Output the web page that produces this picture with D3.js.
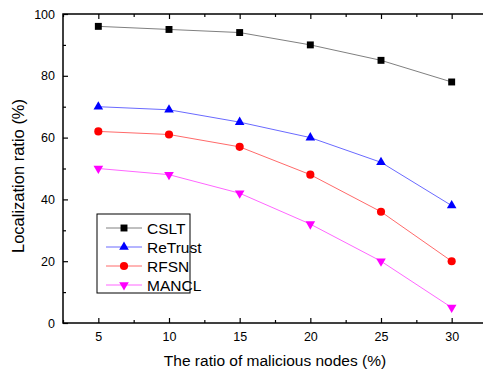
<!DOCTYPE html>
<html>
<head>
<meta charset="utf-8">
<script src="https://cdn.jsdelivr.net/npm/d3@7"></script>
<style>
  body { margin: 0; background: #fff; }
  svg { display: block; font-family: Arial, "Liberation Sans", sans-serif; }
</style>
</head>
<body>
<div class="chart"></div>
<script>
// chart values
const xValues = [5, 10, 15, 20, 25, 30];
const cslt = [96, 95, 94, 90, 85, 78];
const retrust = [70, 69, 65, 60, 52, 38];
const rfsn = [62, 61, 57, 48, 36, 20];
const mancl = [50, 48, 42, 32, 20, 5];
const xTicks = [5, 10, 15, 20, 25, 30];
const yTicks = [0, 20, 40, 60, 80, 100];

const width = 483, height = 374;
const plotLeft = 63, plotTop = 14, plotRight = 487, plotBottom = 323;

const series = [
  { name: 'CSLT', values: cslt, line: '#808080', fill: '#000', symbol: d3.symbolSquare, size: 48 },
  { name: 'ReTrust', values: retrust, line: '#6a6aff', fill: '#0000ff', symbol: d3.symbolTriangle, size: 40 },
  { name: 'RFSN', values: rfsn, line: '#ff6a6a', fill: '#ff0000', symbol: d3.symbolCircle, size: 52 },
  { name: 'MANCL', values: mancl, line: '#ff66ff', fill: '#ff00ff', symbol: 'down', size: 40 }
];

let svg = d3.select('.chart').append('svg')
  .attr('width', width)
  .attr('height', height);

let x = d3.scaleLinear().domain([2.5, 32.5]).range([plotLeft, plotRight]);
let y = d3.scaleLinear().domain([0, 100]).range([plotBottom, plotTop]);

// frame
svg.append('rect')
  .attr('x', plotLeft).attr('y', plotTop)
  .attr('width', plotRight - plotLeft).attr('height', plotBottom - plotTop)
  .attr('fill', 'none').attr('stroke', '#000').attr('stroke-width', 1.5);

// ticks pointing inward on all four sides
let minorX = d3.range(2.5, 33, 2.5).filter(v => v % 5 !== 0);
let minorY = d3.range(10, 100, 20);
const labelFont = 12.5;

svg.append('g').attr('transform', 'translate(0,' + plotBottom + ')')
  .call(d3.axisBottom(x).tickValues(xTicks).tickSize(-5).tickPadding(9))
  .call(g => g.select('.domain').remove())
  .call(g => g.selectAll('text').attr('font-size', labelFont).attr('fill', '#000').attr('font-family', 'Arial, Liberation Sans, sans-serif'));
svg.append('g').attr('transform', 'translate(0,' + plotBottom + ')')
  .call(d3.axisBottom(x).tickValues(minorX).tickSize(-3).tickFormat(''))
  .call(g => g.select('.domain').remove());
svg.append('g').attr('transform', 'translate(0,' + plotTop + ')')
  .call(d3.axisTop(x).tickValues(xTicks).tickSize(-5).tickFormat(''))
  .call(g => g.select('.domain').remove());
svg.append('g').attr('transform', 'translate(0,' + plotTop + ')')
  .call(d3.axisTop(x).tickValues(minorX).tickSize(-3).tickFormat(''))
  .call(g => g.select('.domain').remove());

svg.append('g').attr('transform', 'translate(' + plotLeft + ',0)')
  .call(d3.axisLeft(y).tickValues(yTicks).tickSize(-5).tickPadding(8))
  .call(g => g.select('.domain').remove())
  .call(g => g.selectAll('text').attr('font-size', labelFont).attr('fill', '#000').attr('font-family', 'Arial, Liberation Sans, sans-serif'));
svg.append('g').attr('transform', 'translate(' + plotLeft + ',0)')
  .call(d3.axisLeft(y).tickValues(minorY).tickSize(-3).tickFormat(''))
  .call(g => g.select('.domain').remove());

svg.selectAll('.tick line').attr('stroke', '#000').attr('stroke-width', 1.2);

// axis titles
svg.append('text')
  .attr('x', 275).attr('y', 366)
  .attr('text-anchor', 'middle').attr('font-size', 15.5)
  .text('The ratio of malicious nodes (%)');
svg.append('text')
  .attr('transform', 'translate(24,176) rotate(-90)')
  .attr('text-anchor', 'middle').attr('font-size', 16.5)
  .text('Localization ratio (%)');

function marker(s) {
  if (s.symbol === 'down') {
    return d3.symbol().type(d3.symbolTriangle).size(s.size)();
  }
  return d3.symbol().type(s.symbol).size(s.size)();
}

let line = d3.line().x((d, i) => x(xValues[i])).y(d => y(d));

let plot = svg.append('g');
series.forEach(s => {
  plot.append('path')
    .attr('d', line(s.values))
    .attr('fill', 'none')
    .attr('stroke', s.line)
    .attr('stroke-width', 1);
  plot.selectAll(null)
    .data(s.values)
    .enter()
    .append('path')
    .attr('d', marker(s))
    .attr('fill', s.fill)
    .attr('transform', (d, i) => 'translate(' + x(xValues[i]) + ',' + y(d) + ')' + (s.symbol === 'down' ? ' rotate(180)' : ''));
});

// legend
let lg = svg.append('g').attr('transform', 'translate(97,214)');
lg.append('rect')
  .attr('width', 93).attr('height', 79)
  .attr('fill', '#fff').attr('stroke', '#000').attr('stroke-width', 1);
series.forEach((s, i) => {
  let yy = 14 + i * 19;
  lg.append('line')
    .attr('x1', 9).attr('x2', 45).attr('y1', yy).attr('y2', yy)
    .attr('stroke', s.line).attr('stroke-width', 1);
  lg.append('path')
    .attr('d', marker(s))
    .attr('fill', s.fill)
    .attr('transform', 'translate(27,' + yy + ')' + (s.symbol === 'down' ? ' rotate(180)' : ''));
  lg.append('text')
    .attr('x', 50).attr('y', yy + 5.5)
    .attr('font-size', 15.5)
    .text(s.name);
});
</script>
</body>
</html>
